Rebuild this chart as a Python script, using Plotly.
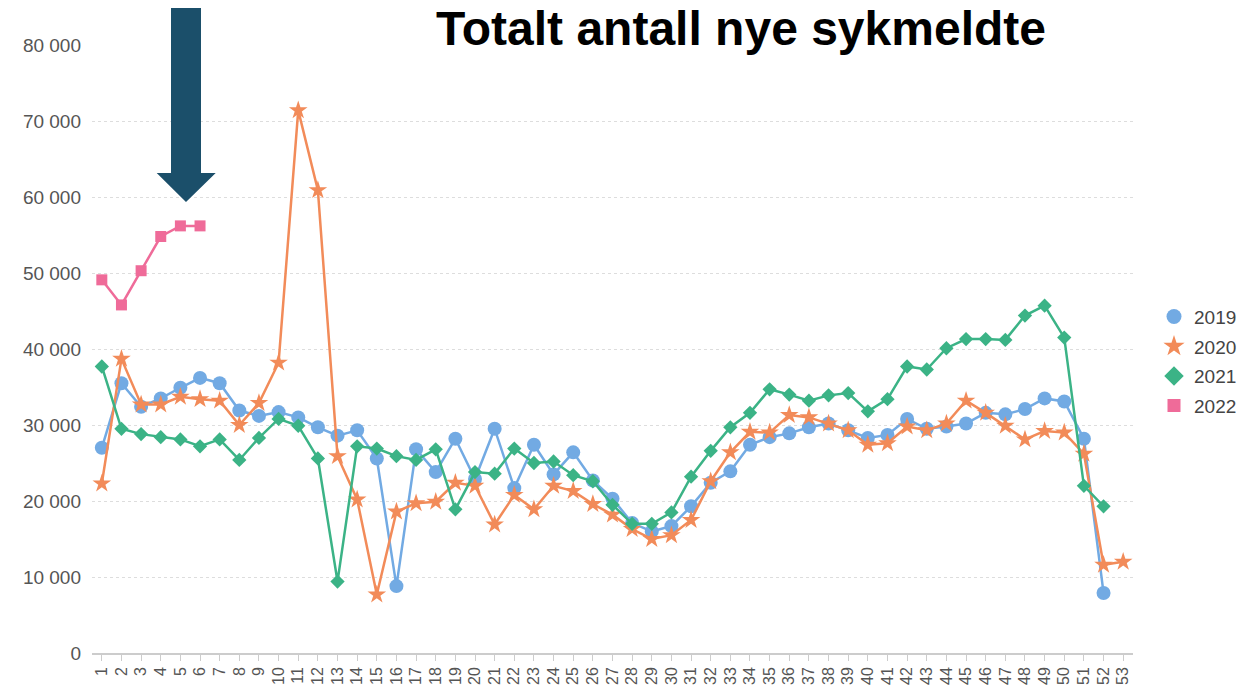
import plotly.graph_objects as go

weeks = list(range(1, 54))
tick_labels = [str(w) for w in weeks]

y2019 = [27000, 35500, 32400, 33500, 34900, 36200, 35500, 31900, 31200, 31700,
         31000, 29700, 28600, 29300, 25600, 8800, 26800, 23800, 28200, 22900,
         29500, 21700, 27400, 23500, 26400, 22700, 20300, 17100, 16000, 16700,
         19300, 22400, 23900, 27400, 28400, 28900, 29700, 30200, 29300, 28300,
         28700, 30800, 29500, 29800, 30200, 31600, 31400, 32100, 33500, 33100,
         28200, 7900]
y2020 = [22300, 38700, 32700, 32700, 33700, 33400, 33200, 30000, 32900, 38200,
         71400, 60900, 25900, 20200, 7700, 18600, 19700, 19900, 22400, 22000,
         16900, 20800, 18900, 22000, 21300, 19600, 18200, 16300, 15000, 15500,
         17500, 22600, 26400, 29100, 29000, 31300, 31000, 30200, 29300, 27400,
         27600, 29800, 29300, 30200, 33200, 31600, 29900, 28100, 29200, 29000,
         26200, 11600, 12000]
y2021 = [37700, 29500, 28800, 28400, 28100, 27200, 28100, 25400, 28300, 30800,
         29900, 25600, 9400, 27200, 26900, 25900, 25400, 26800, 18900, 23800,
         23600, 26900, 25000, 25200, 23400, 22600, 19500, 17000, 17000, 18500,
         23200, 26600, 29700, 31600, 34700, 34000, 33200, 33900, 34200, 31800,
         33400, 37700, 37300, 40100, 41300, 41300, 41200, 44400, 45700, 41500,
         22000, 19300]
y2022 = [49100, 45800, 50300, 54800, 56200, 56200]

series = [
    ("2019", y2019, "#72aae3", "circle", 14, 15),
    ("2020", y2020, "#f28b59", "star", 14, 16),
    ("2021", y2021, "#3bb386", "diamond", 11, 15),
    ("2022", y2022, "#ef6b99", "square", 11, 13),
]

fig = go.Figure()
for name, vals, color, sym, size, lsize in series:
    fig.add_trace(go.Scatter(
        x=weeks[:len(vals)], y=vals, name=name, mode="lines+markers",
        line=dict(color=color, width=2.5),
        marker=dict(symbol=sym, size=size, color=color),
        showlegend=False,
    ))
for name, vals, color, sym, size, lsize in series:
    fig.add_trace(go.Scatter(
        x=[None], y=[None], name=name, mode="markers",
        marker=dict(symbol=sym, size=lsize, color=color),
        legendgroup=name, showlegend=True,
    ))

font_fam = "Liberation Sans, Arial, sans-serif"

# page body has an 8px offset; margins are in figure coordinates
ML, MT = 84, 36.5
PW, PH = 1041, 609

fig.update_layout(
    width=1246, height=689,
    margin=dict(l=ML, r=1246 - ML - PW, t=MT, b=689 - MT - PH, autoexpand=False),
    plot_bgcolor="white", paper_bgcolor="white",
    separators=", ",
    showlegend=True,
    legend=dict(x=(1154 - 92) / PW, xanchor="left", y=0.48, yanchor="middle",
                font=dict(family=font_fam, size=19, color="#444"),
                tracegroupgap=2, itemwidth=30),
    font=dict(family=font_fam),
)

fig.update_xaxes(
    range=[0.5, 53.5], tickmode="array", tickvals=weeks, ticktext=tick_labels,
    tickangle=-90, showgrid=False, zeroline=False, automargin=False,
    showline=True, linecolor="#cccccc", linewidth=1.5,
    ticks="outside", ticklen=6, tickcolor="#cccccc", tickwidth=1,
    tickfont=dict(family=font_fam, size=16, color="#555"),
)
fig.update_yaxes(
    range=[0, 80000], tickvals=[0, 10000, 20000, 30000, 40000, 50000, 60000, 70000, 80000],
    tickformat=",d", showgrid=True, gridcolor="#dddddd", griddash="3px,3px", gridwidth=1,
    zeroline=False, showline=False, ticklabelstandoff=10, automargin=False,
    tickfont=dict(family=font_fam, size=19, color="#555"),
)

# helpers: screen pixel -> paper fraction
def px2x(px):
    return (px - 8 - ML) / PW

def py2y(py):
    return (MT + PH - (py - 8)) / PH

# white box behind the title (covers top gridline)
fig.add_shape(type="rect", xref="paper", yref="paper",
              x0=px2x(360), x1=px2x(1120), y0=py2y(50), y1=py2y(6),
              fillcolor="white", line=dict(width=0), layer="above")

# arrow
path = "M {a},{t} L {b},{t} L {b},{base} L {r},{base} L {tip},{ty} L {l},{base} L {a},{base} Z".format(
    a=px2x(171), b=px2x(201), t=py2y(5), base=py2y(172.7), r=px2x(215.7),
    l=px2x(156.7), tip=px2x(186), ty=py2y(201.7))
fig.add_shape(type="path", path=path, xref="paper", yref="paper",
              fillcolor="#1b4f6a", line=dict(width=0), layer="above")

fig.add_annotation(text="<b>Totalt antall nye sykmeldte</b>", xref="paper", yref="paper",
                   x=px2x(741), y=py2y(28), xanchor="center", yanchor="middle",
                   borderpad=0, showarrow=False,
                   font=dict(family=font_fam, size=48, color="black"))

fig.write_html("out.html")
